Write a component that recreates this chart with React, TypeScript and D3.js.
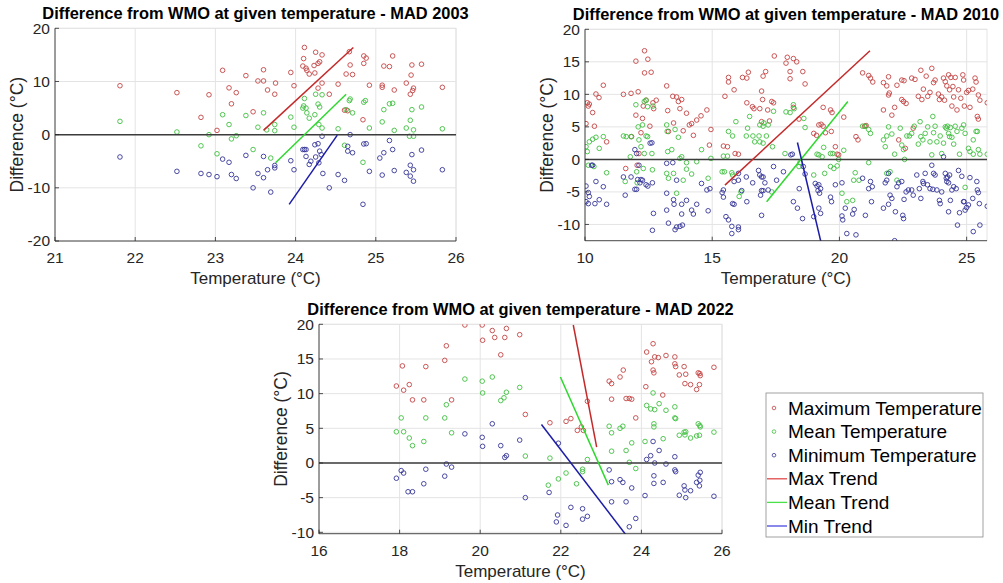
import React from 'react';
import * as d3 from 'd3';

type P = [number, number];

// ---------- MAD 2003 ----------
const mad2003Max: P[] = [
  [21.81, 9.2], [22.52, 7.9], [22.82, 3.25], [22.92, 7.5], [23.02, 0.8], [23.09, 12.1], [23.17, 8.8], [23.2, 5.8],
  [23.26, 7.9], [23.38, 11.1], [23.47, 4.3], [23.53, 10.1], [23.6, 10.1], [23.6, 12.2], [23.65, 8.4], [23.74, 7.6],
  [23.75, 9.7], [23.94, 11.7], [23.98, 9.2], [24.11, 16.4], [24.1, 14.3], [24.09, 12.9], [24.13, 12.5], [24.14, 12.1],
  [24.17, 11.4], [24.24, 11.6], [24.25, 15.5], [24.23, 13], [24.28, 13.4], [24.3, 13.7], [24.33, 15], [24.33, 9.7],
  [24.28, 8.75], [24.42, 7.6], [24.53, 9.5], [24.67, 15.6], [24.68, 13.1], [24.63, 11.4], [24.71, 11.3], [24.61, 4.6],
  [24.65, 4.5], [24.85, 14.8], [24.88, 14.4], [24.85, 13.4], [24.84, 2.8], [24.92, 9.3], [25.08, 9.3], [25.08, 8.9],
  [25.1, 12.9], [25.17, 12.8], [25.21, 14.8], [25.23, 8.4], [25.38, 9.7], [25.43, 7.6], [25.46, 8.3], [25.47, 8.75],
  [25.44, 11.2], [25.45, 13.1], [25.57, 13.25], [25.83, 8.9],
];
const mad2003Mean: P[] = [
  [21.81, 2.5], [22.52, 0.5], [22.82, -2.1], [22.92, 0], [23.02, -3.6], [23.09, 3.75], [23.17, 1.9], [23.2, -0.8],
  [23.26, -0.2], [23.38, 3.6], [23.47, -2.8], [23.53, 1.4], [23.6, 4.1], [23.64, 0.9], [23.69, -4.4], [23.74, 1.9],
  [23.74, 0.75], [23.94, 3.3], [23.98, 1.4], [24.11, 6.8], [24.1, 5.4], [24.09, 5], [24.13, 5], [24.14, 4.1],
  [24.17, 3.1], [24.24, 3.75], [24.25, 7.6], [24.28, 5.75], [24.3, 5.2], [24.33, 7.5], [24.29, 1.9], [24.33, 1.25],
  [24.53, 1.1], [24.61, -2], [24.67, 6.4], [24.63, 4.7], [24.71, 4.1], [24.68, 6.7], [24.85, 6.1], [24.87, 6.4],
  [24.84, -5.2], [24.92, 1.25], [25.08, 2.4], [25.1, 4.7], [25.17, 5.8], [25.21, 5.9], [25.23, 0.8], [25.38, 1.25],
  [25.43, 2.7], [25.45, 4.7], [25.42, -0.3], [25.47, -0.3], [25.47, 0.9], [25.57, 5.2], [25.83, 1.1],
];
const mad2003Min: P[] = [
  [21.81, -4.2], [22.52, -6.9], [22.82, -7.3], [22.92, -7.5], [23.02, -7.9], [23.09, -4.6], [23.17, -5.2], [23.2, -7.5],
  [23.26, -8.25], [23.38, -3.9], [23.47, -10], [23.53, -7.3], [23.6, -8.1], [23.6, -4.1], [23.65, -6.6], [23.69, -10.8],
  [23.74, -6.25], [23.74, -5.8], [23.94, -4.9], [23.98, -6.6], [24.09, -2.8], [24.11, -2.8], [24.13, -2.8], [24.13, -4.1],
  [24.17, -5.6], [24.19, -5], [24.24, -1.9], [24.25, -4.2], [24.28, -1.7], [24.29, -5.3], [24.3, -3.1], [24.32, -3.75],
  [24.33, -0.3], [24.34, -7.3], [24.42, -10], [24.53, -7.5], [24.61, -8.6], [24.65, -2.2], [24.65, -3.1], [24.71, -3.4],
  [24.68, 0], [24.84, -13.1], [24.85, -1.75], [24.88, -1.7], [24.92, -6.9], [25.05, -4.4], [25.1, -3.4], [25.08, -7.6],
  [25.17, -1.1], [25.21, -2.8], [25.23, -6.75], [25.38, -7.1], [25.43, -7.8], [25.47, -8.75], [25.43, -5.75], [25.45, -3.75],
  [25.47, -6.6], [25.57, -2.9], [25.83, -6.6],
];
const mad2003MaxTrend: P[] = [[23.6, 0.8], [24.72, 16.4]];
const mad2003MeanTrend: P[] = [[23.75, -5.3], [24.63, 7.6]];
const mad2003MinTrend: P[] = [[23.92, -13.1], [24.52, -0.1]];

// ---------- MAD 2010 ----------
const mad2010Max: P[] = [
  [10.09, 8.7], [10.13, 8.2], [10.17, 8.5], [10.04, 5.5], [10.3, 7.2], [10.37, 5.1], [10.43, 10.05], [10.55, 9.5],
  [10.72, 11.4], [10.85, 2.7], [11.51, 10], [11.6, -1.4], [11.81, 10.15],
  [12.0, 15.1], [12.09, 10.4], [12.0, 6.8], [11.83, 3.5], [12.05, -0.9], [12.12, 0.9], [12.2, 4.1], [12.29, 8.2],
  [12.26, 6.3], [12.34, 16.7], [12.34, 13.3], [12.47, 15.4], [12.6, 13.4], [12.67, 8.7], [12.7, 7.8], [12.4, 9.1],
  [12.55, 5.1], [13.21, 11.3], [13.25, 7.5], [13.28, 4.3], [13.45, 9.7], [13.48, 5.6], [13.6, 9.6], [13.67, 8.9],
  [13.73, 7.8], [13.8, 9.2], [13.86, 4.4], [13.99, 7.1], [14.1, 5.3], [14.19, 5.5], [14.26, 3.7], [14.39, 6.05],
  [14.56, 6.7], [14.79, 7.6], [14.89, 2.2], [14.95, 4.6], [12.8, 9.1],
  [15.5, 9.7], [15.44, 2.05], [15.6, 1.95], [15.64, 11.9], [15.64, 12.6], [15.86, 10.7], [15.9, 0.9], [16.03, 0.8],
  [16.19, 12.6], [16.36, 12.5], [16.42, 13.4], [16.36, 8.7], [16.58, 8.1], [16.64, 7.8], [16.87, 7.8], [16.94, 10.5],
  [17.0, 12.8], [17.1, 13.5], [16.94, 5.8], [16.98, 9.2], [17.18, 7.6], [17.25, 5.9], [17.34, 8.9], [17.41, 8.7],
  [17.44, 15.9], [17.9, 14.8], [17.95, 15.7], [18.06, 13.5], [18.06, 12.4], [18.19, 15.5], [18.32, 15], [18.56, 13.5],
  [18.65, 11.6], [18.19, 8], [18.41, 6.2],
  [18.99, 4], [19.1, 3.7], [19.19, 5.3], [19.28, 5.4], [19.36, 5.1], [19.36, 8], [19.65, 7.6], [19.71, 7.2],
  [19.68, 4.3], [19.91, 0.8], [19.97, 0.7], [20.17, 6.5], [20.65, 3.5], [20.73, 3], [20.91, 13.3], [21.15, 12.9],
  [21.22, 12.5], [21.31, 11.9], [20.99, 5.1], [21.05, 5.2], [19.84, 1.95], [19.45, 4.1],
  [21.73, 7.6], [21.86, 11.3], [21.93, 9.9], [21.96, 10.2], [21.93, 12.7], [22.06, 6.8], [22.17, 8], [22.26, 11.4],
  [22.45, 12.2], [22.54, 12.1], [22.45, 9.2], [22.52, 8.9], [22.62, 8.6], [22.84, 12.5], [22.97, 12.3], [23.1, 9.7],
  [23.2, 13.7], [23.24, 9.2], [23.3, 10.8], [23.41, 12.8], [23.47, 9.7], [23.56, 10.3], [23.63, 14], [23.7, 11.8],
  [23.76, 12.2], [23.89, 10.05], [23.93, 9.2], [24.02, 9.6], [24.09, 12.5], [24.13, 9.1], [24.16, 11.95], [24.22, 11.3],
  [24.29, 13], [24.33, 10.7], [24.38, 12.6], [24.42, 8.2], [24.46, 11.2], [24.49, 9.6], [24.55, 12.6], [24.62, 7.6],
  [24.68, 10.7], [24.77, 9.4], [24.85, 13], [24.88, 12.2], [24.91, 8.2], [25.0, 10.3], [25.07, 10.6], [25.13, 8],
  [25.24, 10.8], [25.33, 12.5], [25.37, 11.9], [25.42, 6.6], [25.46, 6.2], [25.46, 9.9], [25.52, 9.1], [25.81, 8.7],
  [21.73, 11.8], [22.9, 4.8], [22.33, 3], [22.59, 1.7],
];
const mad2010Mean: P[] = [
  [10.04, 1.95], [10.09, 1.2], [10.17, 2.7], [10.3, 3.1], [10.43, 3.4], [10.13, -0.9], [10.35, -1.1], [10.56, 1.7],
  [10.72, 3.5], [10.85, -2.05], [11.51, 3.6], [11.62, 3.5], [11.58, -3.4], [11.81, 3.5], [11.78, 0.4],
  [12.0, 8.4], [12.09, 5], [12.12, 3], [12.2, 1.95], [12.03, -1.9], [12.05, -3.6], [12.26, 5.3], [12.33, 8.9],
  [12.4, 9.1], [12.46, 8.1], [12.4, 3.6], [12.46, 3.5], [12.33, 0.9], [12.29, -1.4], [12.63, 0.9], [12.67, 8.2],
  [12.65, -1.6], [13.21, 5.3], [13.23, 4.3], [13.25, 1.2], [13.21, -2.15], [13.28, -2.9], [13.41, 1.5], [13.48, -2.15],
  [13.54, 4.6], [13.6, -5.2], [13.67, 3.4], [13.73, 0.15], [13.8, 0.4], [13.99, -0.5], [13.99, -1.5], [14.19, -2.25],
  [14.39, -0.35], [14.58, 1.5], [14.84, -2.9], [14.95, 0.15], [13.86, -3.2],
  [15.39, -1.9], [15.48, -1.9], [15.44, 0.5], [15.6, 0.5], [15.64, 4.3], [15.8, 3.6], [15.77, -2.05], [15.8, -2.4],
  [15.93, 5.8], [16.06, -5.7], [16.13, -5], [16.34, 3.6], [16.39, 4.8], [16.47, 6.6], [16.6, 3.6], [16.67, 2.7],
  [16.84, 3.6], [16.87, 5.3], [17.0, 5.1], [17.03, 5.6], [17.13, 3.6], [17.2, 5.3], [17.37, 1.95], [17.41, 7.4],
  [16.87, 2.7], [17.0, 2.5], [17.34, -5], [17.9, 7.3], [18.06, 7.2], [18.19, 8.4], [18.22, 7.8], [18.6, 6.3],
  [18.65, 4.9], [18.45, -0.5], [18.41, -1.1], [17.86, 0.9],
  [18.99, -2.4], [19.12, 0.8], [19.19, 0.7], [19.32, 0.4], [19.38, 1.85], [19.42, -2.15], [19.65, 0.9], [19.74, 0.9],
  [19.65, -1.1], [19.78, -1.4], [19.97, 0], [19.91, -1.0], [20.1, -5.2], [20.17, 1.4], [20.29, -6.5], [20.52, -6.3],
  [20.62, -2.05], [20.56, -3.2], [20.91, 5.1], [21.02, 5.1], [21.15, 4.6], [21.22, 4], [21.15, -0.5], [20.77, -3.2],
  [21.73, 3], [21.8, 1.95], [21.86, 3.6], [21.93, 5], [21.86, -2.15], [21.99, -1.9], [22.06, 3.9], [22.17, 0.8],
  [22.26, -3.2], [22.39, 4.8], [22.45, 2.2], [22.52, 1.5], [22.56, 0], [22.65, 3.6], [22.75, 3.6], [22.84, 4],
  [22.94, 5.1], [23.1, 2.35], [23.17, 5.8], [23.2, 3.5], [23.28, 3], [23.37, 4], [23.47, 5], [23.56, 2.7],
  [23.63, 0.7], [23.67, 6.6], [23.7, 4.1], [23.76, 5.1], [23.83, 2.7], [23.96, 3.6], [24.02, 0.9], [24.09, 2.5],
  [24.16, 5], [24.2, 4.8], [24.25, 5.1], [24.29, 4], [24.33, 3.5], [24.36, 4.9], [24.42, 3.4], [24.49, 2.35],
  [24.55, 5.1], [24.62, 4.3], [24.72, 0.8], [24.81, 4.8], [24.88, 5.3], [24.94, 4], [25.07, 1.7], [25.13, 1.2],
  [25.26, 3], [25.37, 4.3], [25.42, 4.3], [25.46, 1.5], [25.52, 0.8], [25.81, 0.8], [24.94, -4.3], [25.26, 0.8],
];
const mad2010Min: P[] = [
  [10.04, -4.1], [10.13, -5.1], [10.17, -5.7], [10.04, -6.5], [10.13, -6.8], [10.26, -0.9], [10.3, -0.9], [10.39, -6.8],
  [10.43, -3.4], [10.56, -6.2], [10.72, -4.2], [10.85, -6.9], [11.51, -2.7], [11.58, -5.5], [11.81, -2.7],
  [11.96, 1.5], [12.03, 0.9], [11.96, -4.6], [12.03, -4.6], [12.07, -3.1], [12.16, -3.6], [12.2, -3.1], [12.26, -3.2],
  [12.12, -0.9], [12.4, -3.9], [12.47, -4.1], [12.56, 2.5], [12.63, 2.55], [12.65, -3.6], [12.69, -8.3], [12.65, -10.9],
  [13.21, -0.6], [13.21, -5.2], [13.21, -7.8], [13.28, -9.8], [13.45, -0.5], [13.48, -6.2], [13.5, -6.9], [13.54, -10.8],
  [13.6, -10.4], [13.73, -10.3], [13.83, -10.1], [13.8, -6.9], [13.8, -8.4], [13.99, -6.3], [14.19, -7.8], [14.26, -8.4],
  [14.39, -6.9], [14.58, -3.7], [14.79, -4.7], [14.84, -7.9], [14.91, -4.5], [13.6, -3.2],
  [15.39, -5.1], [15.44, -5.8], [15.44, -4.7], [15.54, -8.8], [15.64, -9.3], [15.77, -10.3], [15.77, -11.4], [15.8, -6.8],
  [15.86, -6.9], [15.86, -3.4], [16.03, -10.4], [16.03, -10.8], [16.03, -3.2], [16.03, -2.15], [16.16, -4.8], [16.34, -2.7],
  [16.36, -6.5], [16.59, -3.6], [16.82, -1.7], [16.87, -2.4], [16.94, -2.7], [17.0, -2.7], [17.07, -3.6], [16.94, -4.8],
  [17.0, -4.8], [16.9, -5.5], [16.94, -8.6], [17.2, -4.7], [17.41, -1.1], [17.53, -3.2], [17.8, -1.9], [18.09, 0.7],
  [18.15, 0.8], [18.19, -6.5], [18.35, -7.5], [18.55, -9.1], [18.58, -1.1], [18.65, -2.25], [18.42, -4.5],
  [18.99, -8.8], [19.05, -3.7], [19.12, -4.1], [19.16, -4.8], [19.19, -3.9], [19.22, -5.2], [19.26, -4.5], [19.19, -7.5],
  [19.26, -8.3], [19.65, -5.8], [19.69, -6.5], [19.84, -3.9], [20.1, -3.6], [20.1, -8.7], [20.13, -9.3], [20.29, -11.4],
  [20.52, -8.4], [20.58, -7.7], [20.65, -11.6], [20.91, -2.9], [21.02, -8.6], [21.15, -4.5], [21.22, -3.4], [21.26, -6.5],
  [21.29, -4.2], [20.23, -7.5],
  [21.73, -7.5], [21.8, -3.6], [21.86, -3.2], [21.93, -2.15], [21.93, -6.9], [21.99, -5.5], [22.06, -6], [22.17, -12.5],
  [22.2, -8.05], [22.26, -4.2], [22.33, -3.6], [22.45, -3.4], [22.49, -8.6], [22.52, -9.1], [22.54, -6.15], [22.62, -5],
  [22.71, -4.7], [22.84, -4.7], [22.9, -5.5], [23.04, -2.4], [23.14, -4.5], [23.2, -6], [23.28, -3.4], [23.3, -3.7],
  [23.37, -2.15], [23.46, -3.9], [23.56, -4.5], [23.63, -0.9], [23.67, -4.6], [23.7, -2.15], [23.76, -2.4], [23.83, -4.7],
  [23.93, -6.3], [23.96, -6.8], [24.02, -5], [24.09, 0.4], [24.16, -2.15], [24.2, -2.9], [24.22, -3.4], [24.25, -2.7],
  [24.29, -3.6], [24.29, -8.05], [24.33, -2.4], [24.36, -6.3], [24.42, -4.7], [24.49, -4.2], [24.59, -4.5], [24.64, -10.1],
  [24.68, -1.7], [24.72, -8.2], [24.81, -2.6], [24.88, -6.5], [24.9, -6.5], [24.94, -7.8], [25.0, -7.4], [25.07, -7],
  [25.13, -2.8], [25.24, -6], [25.26, -11.1], [25.4, -3.4], [25.42, -4.7], [25.46, -5.1], [25.5, -6.8], [25.52, -10.1],
  [25.81, -7.2],
];
const mad2010MaxTrend: P[] = [[15.5, -3.95], [21.2, 16.7]];
const mad2010MeanTrend: P[] = [[17.14, -6.5], [20.33, 8.9]];
const mad2010MinTrend: P[] = [[18.35, 2.6], [19.4, -14.8]];

// ---------- MAD 2022 ----------
const mad2022Max: P[] = [
  [17.92, 11.1], [18.07, 14], [18.1, 10.5], [18.24, 11.3], [18.32, 9.1], [18.6, 9.1], [18.65, 13.9], [19.12, 14.8],
  [19.16, 16.9], [19.29, 9.1], [19.62, 19.9], [20.05, 19.9], [20.06, 17.7], [20.3, 19.1], [20.36, 18.1], [20.65, 19.4],
  [20.51, 15.6], [20.61, 18.1], [20.98, 18.5], [21.12, 7], [21.73, 5.8], [22.13, 6], [22.25, 6.4], [22.41, 4.7],
  [22.51, 5.2], [22.56, 4.7], [22.66, 8.9], [23.2, 11.8], [23.26, 11.45], [23.26, 9.2], [23.47, 12.4], [23.55, 13.4],
  [23.62, 9.3], [23.7, 9.3], [23.76, 9.2], [23.86, 6.5], [24.13, 16], [24.11, 11], [24.25, 14.6], [24.29, 17.2],
  [24.33, 15.3], [24.29, 13.4], [24.31, 13], [24.42, 15.2], [24.53, 9.8], [24.61, 15.5], [24.83, 15.3], [24.83, 14.3],
  [24.85, 13.9], [24.94, 12.7], [25.06, 13.9], [25.08, 11.45], [25.1, 12.8], [25.22, 11.3], [25.37, 10.6], [25.44, 11.3],
  [25.41, 13], [25.45, 12.9], [25.46, 12.6], [25.8, 13.8],
];
const mad2022Mean: P[] = [
  [17.92, 4.5], [18.04, 6.5], [18.1, 4.5], [18.24, 3.6], [18.32, 2.5], [18.6, 3.1], [18.65, 6.5], [19.12, 6.5],
  [19.16, 8.4], [19.29, 4.35], [19.62, 12.1], [20.05, 11.8], [20.06, 10.1], [20.3, 12.4], [20.51, 9], [20.59, 9.4],
  [20.65, 10.2], [20.98, 10.9], [21.12, 1], [21.73, 0.7], [21.94, -2.3], [21.69, -3.2], [22.13, -1.45], [22.39, -3],
  [22.54, -0.9], [22.54, -1.25], [22.66, 0.5], [23.2, 5.3], [23.26, 4.35], [23.26, 1.7], [23.47, 5], [23.54, 5.3],
  [23.62, 1.8], [23.7, 0.1], [23.76, 2.9], [23.86, -0.8], [24.09, 3.1], [24.13, 8.3], [24.23, 7.8], [24.29, 10.1],
  [24.31, 5.65], [24.31, 5.2], [24.33, 7.7], [24.44, 8.55], [24.54, 3.5], [24.61, 7.6], [24.83, 8.1], [24.83, 6.5],
  [24.85, 6.4], [24.94, 4], [25.06, 4.45], [25.08, 4.05], [25.1, 4.5], [25.22, 3.6], [25.37, 3.9], [25.41, 5.65],
  [25.44, 4], [25.45, 5.4], [25.46, 5.2], [25.8, 4.45],
];
const mad2022Min: P[] = [
  [17.92, -2.2], [18.04, -1.1], [18.1, -1.45], [18.21, -4.15], [18.32, -4.15], [18.6, -3], [18.65, -0.9], [19.12, -1.9],
  [19.16, -0.15], [19.29, -0.6], [19.62, 4.2], [20.05, 3.7], [20.06, 2.4], [20.3, 5.65], [20.51, 2.5], [20.61, 0.8],
  [20.65, 1.05], [20.98, 3.3], [21.12, -5], [21.71, -4.25], [21.94, 2.85], [21.92, -7.5], [21.89, -8.5], [22.13, -9],
  [22.25, -6.4], [22.39, -10.6], [22.54, -6.6], [22.54, -8.1], [22.66, -7.7], [23.2, -1], [23.26, -2.7], [23.26, -5.6],
  [23.47, -2.4], [23.54, -2.8], [23.62, -5.6], [23.7, -9.2], [23.76, -3.6], [23.86, -8], [24.09, -4.7], [24.13, 0.5],
  [24.23, 1.05], [24.29, 3.1], [24.31, -1.85], [24.31, -2.95], [24.33, 0], [24.44, 1.8], [24.54, -2.8], [24.61, -0.15],
  [24.83, 0.9], [24.83, -1], [24.85, -1.25], [24.94, -4.65], [25.06, -3.3], [25.08, -3.9], [25.1, -5], [25.22, -4],
  [25.37, -2.8], [25.41, -1.75], [25.44, -3.3], [25.45, -2.5], [25.46, -1.35], [25.8, -4.8],
];
const mad2022MaxTrend: P[] = [[22.31, 19.9], [22.89, 2.3]];
const mad2022MeanTrend: P[] = [[21.99, 12.4], [23.18, -3.2]];
const mad2022MinTrend: P[] = [[21.52, 5.55], [23.62, -10.4]];

// ---------- axes / legend text ----------
const titles = [
  'Difference from WMO at given temperature - MAD 2003',
  'Difference from WMO at given temperature - MAD 2010',
  'Difference from WMO at given temperature - MAD 2022',
];
const xTicks2003 = [21, 22, 23, 24, 25, 26];
const yTicks2003 = [-20, -10, 0, 10, 20];
const xTicks2010 = [10, 15, 20, 25];
const yTicks2010 = [-10, -5, 0, 5, 10, 15, 20];
const xTicks2022 = [16, 18, 20, 22, 24, 26];
const yTicks2022 = [-10, -5, 0, 5, 10, 15, 20];
const legendLabels = ['Maximum Temperature', 'Mean Temperature', 'Minimum Temperature', 'Max Trend', 'Mean Trend', 'Min Trend'];

const PT_COLORS = ['#c44444', '#40bf40', '#363699'];
const LINE_COLORS = ['#c42a2a', '#2fd82f', '#1c1ca8'];
const LEG_LINE_COLORS = ['#e04a4a', '#4ae04a', '#4a4ae0'];
const AX = '#262626';
const GRID = '#e4e4e4';
const FONT = 'Liberation Sans, Arial, Helvetica, sans-serif';

interface PanelCfg {
  id: string;
  title: string;
  left: number; right: number; top: number; bottom: number;
  xDom: [number, number]; yDom: [number, number];
  xTicks: number[]; yTicks: number[];
  series: P[][];
  trends: P[][];
}

const panels: PanelCfg[] = [
  { id: 'p1', title: titles[0], left: 55, right: 456, top: 28.3, bottom: 241, xDom: [21, 26], yDom: [-20, 20],
    xTicks: xTicks2003, yTicks: yTicks2003, series: [mad2003Max, mad2003Mean, mad2003Min],
    trends: [mad2003MaxTrend, mad2003MeanTrend, mad2003MinTrend] },
  { id: 'p2', title: titles[1], left: 585, right: 987, top: 29.3, bottom: 240.7, xDom: [10, 25.8], yDom: [-12.5, 20],
    xTicks: xTicks2010, yTicks: yTicks2010, series: [mad2010Max, mad2010Mean, mad2010Min],
    trends: [mad2010MaxTrend, mad2010MeanTrend, mad2010MinTrend] },
  { id: 'p3', title: titles[2], left: 319, right: 722, top: 324.3, bottom: 533.7, xDom: [16, 26], yDom: [-10.2, 20],
    xTicks: xTicks2022, yTicks: yTicks2022, series: [mad2022Max, mad2022Mean, mad2022Min],
    trends: [mad2022MaxTrend, mad2022MeanTrend, mad2022MinTrend] },
];

function Panel({ c }: { c: PanelCfg }) {
  const x = d3.scaleLinear().domain(c.xDom).range([c.left, c.right]);
  const y = d3.scaleLinear().domain(c.yDom).range([c.bottom, c.top]);
  const line = d3.line<P>().x((d) => x(d[0])).y((d) => y(d[1]));
  const w = c.right - c.left;
  const h = c.bottom - c.top;
  const cx = (c.left + c.right) / 2;
  const cy = (c.top + c.bottom) / 2;
  return (
    <g>
      <defs>
        <clipPath id={`clip-${c.id}`}>
          <rect x={c.left} y={c.top} width={w} height={h} />
        </clipPath>
      </defs>
      <rect x={c.left} y={c.top} width={w} height={h} fill="#fff" stroke={GRID} strokeWidth={1} />
      {c.xTicks.map((t) => (
        <line key={`gx${t}`} x1={x(t)} x2={x(t)} y1={c.top} y2={c.bottom} stroke={GRID} strokeWidth={1} />
      ))}
      {c.yTicks.map((t) => (
        <line key={`gy${t}`} x1={c.left} x2={c.right} y1={y(t)} y2={y(t)} stroke={GRID} strokeWidth={1} />
      ))}
      <g clipPath={`url(#clip-${c.id})`}>
        {c.series.map((s, i) => (
          <g key={`s${i}`} fill="none" stroke={PT_COLORS[i]} strokeWidth={0.9}>
            {s.map((d, j) => (
              <circle key={j} cx={x(d[0])} cy={y(d[1])} r={2.3} />
            ))}
          </g>
        ))}
        <line x1={c.left} x2={c.right} y1={y(0)} y2={y(0)} stroke="#3c3c3c" strokeWidth={1.5} />
        {c.trends.map((t, i) => (
          <path key={`t${i}`} d={line(t) || ''} fill="none" stroke={LINE_COLORS[i]} strokeWidth={1.5} />
        ))}
      </g>
      <line x1={c.left} x2={c.left} y1={c.top} y2={c.bottom} stroke={AX} strokeWidth={0.8} />
      <line x1={c.left} x2={c.right} y1={c.bottom} y2={c.bottom} stroke={AX} strokeWidth={0.8} />
      {c.xTicks.map((t) => (
        <g key={`tx${t}`}>
          <line x1={x(t)} x2={x(t)} y1={c.bottom} y2={c.bottom - 4} stroke={AX} strokeWidth={0.8} />
          <text x={x(t)} y={c.bottom + 22} textAnchor="middle" fontSize={15.5} fill={AX} fontFamily={FONT}>{t}</text>
        </g>
      ))}
      {c.yTicks.map((t) => (
        <g key={`ty${t}`}>
          <line x1={c.left} x2={c.left + 4} y1={y(t)} y2={y(t)} stroke={AX} strokeWidth={0.8} />
          <text x={c.left - 5} y={y(t)} dy="0.35em" textAnchor="end" fontSize={15.5} fill={AX} fontFamily={FONT}>{t}</text>
        </g>
      ))}
      <text x={cx} y={c.bottom + 43} textAnchor="middle" fontSize={17} fill={AX} fontFamily={FONT}>Temperature (°C)</text>
      <text transform={`translate(${c.left - 38},${cy}) rotate(-90)`} textAnchor="middle" dy="0.35em" fontSize={17.5} fill={AX} fontFamily={FONT}>Difference (°C)</text>
      <text x={cx} y={c.top - 9.5} textAnchor="middle" fontSize={16.4} fontWeight="bold" fill="#000" fontFamily={FONT}>{c.title}</text>
    </g>
  );
}

function Legend() {
  const lx = 766, ly = 393, lw = 217, lh = 144;
  const rows = d3.scaleLinear().domain([0, 5]).range([408, 526]);
  return (
    <g>
      <rect x={lx} y={ly} width={lw} height={lh} fill="#fff" stroke="#8a8a8a" strokeWidth={0.8} />
      {legendLabels.map((lab, i) => (
        <g key={lab}>
          {i < 3 ? (
            <circle cx={774} cy={rows(i)} r={1.8} fill="none" stroke={PT_COLORS[i]} strokeWidth={0.8} />
          ) : (
            <line x1={767} x2={787} y1={rows(i)} y2={rows(i)} stroke={LEG_LINE_COLORS[i - 3]} strokeWidth={1.3} />
          )}
          <text x={788} y={rows(i)} dy="0.35em" fontSize={19} fill="#000" fontFamily={FONT}>{lab}</text>
        </g>
      ))}
    </g>
  );
}

export default function App() {
  return (
    <svg width={1003} height={583} style={{ position: 'absolute', left: 0, top: 0, background: '#fff' }}>
      <rect x={0} y={0} width={1003} height={583} fill="#fff" />
      {panels.map((c) => (
        <Panel key={c.id} c={c} />
      ))}
      <Legend />
    </svg>
  );
}
